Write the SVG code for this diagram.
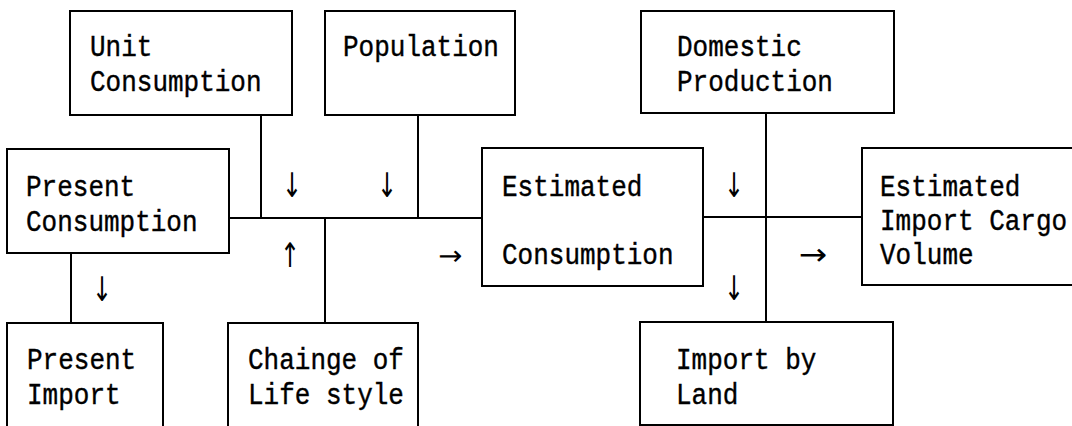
<svg xmlns="http://www.w3.org/2000/svg" width="1072" height="426" viewBox="0 0 1072 426">
  <style>
    .box { fill: #ffffff; stroke: #000000; stroke-width: 2; }
    .wire { fill: none; stroke: #000000; stroke-width: 2; }
    .lbl { font-family: "Liberation Mono", "DejaVu Sans Mono", monospace; font-size: 26px; fill: #000000; stroke: #000000; stroke-width: 0.35; }
    .arr { font-family: "DejaVu Sans", "Liberation Sans", sans-serif; font-size: 34px; fill: #000000; text-anchor: middle; }
  </style>
  <rect width="1072" height="426" fill="#ffffff"/>

  <!-- connectors and the typed arrow marks beside them -->
  <g id="connectors">
    <path class="wire" d="M261 115 V218 M418 115 V218 M229 218 H482 M325 218 V323"/>
    <path class="wire" d="M71 253 V323"/>
    <path class="wire" d="M766 113 V322 M703 217 H862"/>
    <text class="arr" transform="translate(292 197) scale(0.7 1)">↓</text>
    <text class="arr" transform="translate(387 197) scale(0.7 1)">↓</text>
    <text class="arr" transform="translate(290 267) scale(0.7 1)">↑</text>
    <text class="arr" transform="translate(450 265) scale(0.85 0.8)">→</text>
    <text class="arr" transform="translate(734 197) scale(0.7 1)">↓</text>
    <text class="arr" transform="translate(734 300) scale(0.7 1)">↓</text>
    <text class="arr" transform="translate(813 265) scale(1 0.9)">→</text>
    <text class="arr" transform="translate(102 301) scale(0.7 1)">↓</text>
  </g>

  <!-- labels are stretched vertically to the tall half-width face -->
  <g id="unit-consumption">
    <rect class="box" x="70" y="11" width="222" height="104"/>
    <text class="lbl" transform="translate(90 56) scale(1 1.12)">Unit</text>
    <text class="lbl" transform="translate(90 91) scale(1 1.12)">Consumption</text>
  </g>

  <g id="population">
    <rect class="box" x="325" y="11" width="190" height="104"/>
    <text class="lbl" transform="translate(343 56) scale(1 1.12)">Population</text>
  </g>

  <g id="domestic-production">
    <rect class="box" x="641" y="11" width="253" height="102"/>
    <text class="lbl" transform="translate(677 56) scale(1 1.12)">Domestic</text>
    <text class="lbl" transform="translate(677 91) scale(1 1.12)">Production</text>
  </g>

  <g id="present-consumption">
    <rect class="box" x="7" y="149" width="222" height="104"/>
    <text class="lbl" transform="translate(26 196) scale(1 1.12)">Present</text>
    <text class="lbl" transform="translate(26 231) scale(1 1.12)">Consumption</text>
  </g>

  <g id="estimated-consumption">
    <rect class="box" x="482" y="148" width="221" height="138"/>
    <text class="lbl" transform="translate(502 196) scale(1 1.12)">Estimated</text>
    <text class="lbl" transform="translate(502 264) scale(1 1.12)">Consumption</text>
  </g>

  <g id="estimated-import-cargo-volume">
    <rect class="box" x="862" y="148" width="220" height="137"/>
    <text class="lbl" transform="translate(880 196) scale(1 1.12)">Estimated</text>
    <text class="lbl" transform="translate(880 230) scale(1 1.12)">Import Cargo</text>
    <text class="lbl" transform="translate(880 264) scale(1 1.12)">Volume</text>
  </g>

  <g id="present-import">
    <rect class="box" x="7" y="323" width="156" height="110"/>
    <text class="lbl" transform="translate(27 369) scale(1 1.12)">Present</text>
    <text class="lbl" transform="translate(27 404) scale(1 1.12)">Import</text>
  </g>

  <g id="change-of-life-style">
    <rect class="box" x="228" y="323" width="190" height="110"/>
    <text class="lbl" transform="translate(248 369) scale(1 1.12)">Chainge of</text>
    <text class="lbl" transform="translate(248 404) scale(1 1.12)">Life style</text>
  </g>

  <g id="import-by-land">
    <rect class="box" x="640" y="322" width="253" height="103"/>
    <text class="lbl" transform="translate(676 369) scale(1 1.12)">Import by</text>
    <text class="lbl" transform="translate(676 404) scale(1 1.12)">Land</text>
  </g>
</svg>
